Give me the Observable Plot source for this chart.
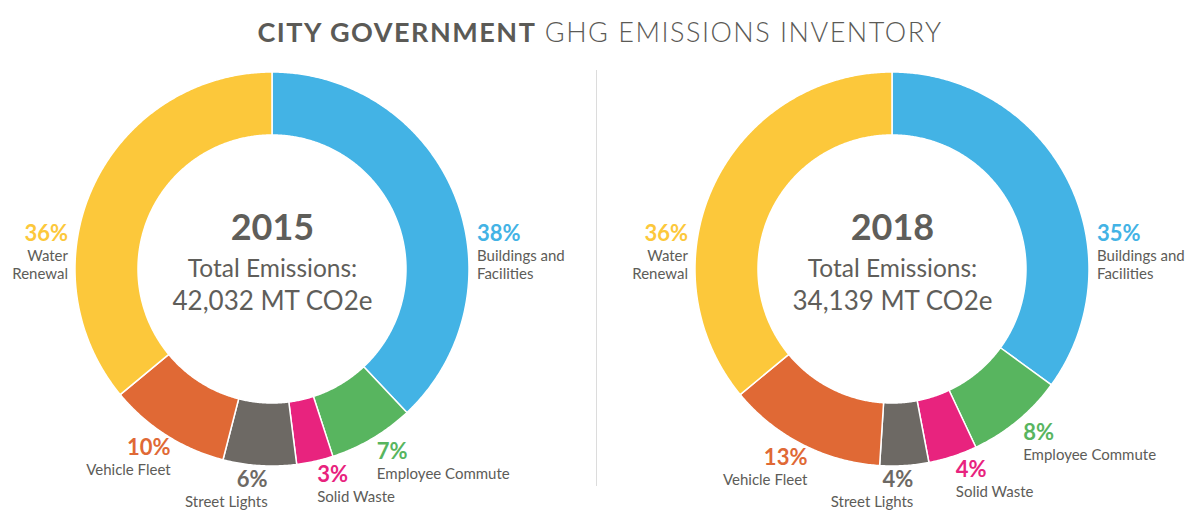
<!DOCTYPE html>
<html>
<head>
<meta charset="utf-8">
<script src="https://cdn.jsdelivr.net/npm/d3@7"></script>
<script src="https://cdn.jsdelivr.net/npm/@observablehq/plot@0.6"></script>
<style>
  html, body { margin: 0; padding: 0; background: #ffffff; }
  body { width: 1200px; height: 522px; position: relative; overflow: hidden; font-family: Lato, "Open Sans", sans-serif; }
  #title { position: absolute; left: 0; top: 14px; width: 1200px; height: 36px; line-height: 36px; text-align: center;
           font-size: 27px; color: #5b5a56; white-space: nowrap; }
  #title span { display: inline-block; }
  #title b { font-weight: 700; }
  #title .light { font-weight: 300; }
  #chart { position: absolute; left: 0; top: 56px; }
  #divider { position: absolute; left: 596px; top: 70px; width: 1px; height: 416px; background: #dcdcdc; }
</style>
</head>
<body>
<div id="title"><span id="titletext"><b>CITY GOVERNMENT</b> <span class="light">GHG EMISSIONS INVENTORY</span></span></div>
<div id="divider"></div>
<div id="chart"></div>
<script>
// ---------- data ----------
const years = ["2015", "2018"];
const totals = ["42,032", "34,139"];
const categories = ["Buildings and Facilities", "Employee Commute", "Solid Waste", "Street Lights", "Vehicle Fleet", "Water Renewal"];
const labelNames = ["Buildings and\nFacilities", "Employee Commute", "Solid Waste", "Street Lights", "Vehicle Fleet", "Water\nRenewal"];
const share2015 = [38, 7, 3, 6, 10, 36];
const share2018 = [35, 8, 4, 4, 13, 36];
const colors = ["#43b3e5", "#58b55f", "#e8237e", "#6d6964", "#e06935", "#fcc83b"];

// ---------- layout ----------
const PX = 197;               // pixels per unit (outer radius)
const R_OUT = 1;
const R_IN = 134 / PX;
const R_LABEL = 205 / PX;
const SIDE_X = 204.5 / PX;
const SIDE_Y = 44 / PX;
const W = 1200, H = 466;
const panelW = 540, gap = 80;
const cy = 213;               // centre y inside the svg

const sharesByYear = [share2015, share2018];
const pie = d3.pie().sort(null).value(d => d);

const slices = [];
years.forEach((year, yi) => {
  const arcs = pie(sharesByYear[yi]);
  arcs.forEach((a, i) => {
    slices.push({year, category: categories[i], name: labelNames[i], share: a.data,
                 start: a.startAngle, end: a.endAngle, mid: (a.startAngle + a.endAngle) / 2});
  });
});

// ring outline points (annular sectors), sampled along each arc
const ring = [];
for (const s of slices) {
  const n = Math.max(2, Math.ceil((s.end - s.start) / 0.008));
  for (let k = 0; k <= n; k++) {
    const a = s.start + (s.end - s.start) * k / n;
    ring.push({year: s.year, category: s.category, key: s.year + s.category,
               xo: R_OUT * Math.sin(a), yo: R_OUT * Math.cos(a),
               xi: R_IN * Math.sin(a), yi: R_IN * Math.cos(a)});
  }
}

// label anchor positions derived from slice angles
const labels = slices.map(s => {
  let x, y, anchor, side = false;
  if (s.start < Math.PI / 2 && s.end > Math.PI / 2) { x = SIDE_X; y = SIDE_Y; anchor = "start"; side = true; }
  else if (s.start < 3 * Math.PI / 2 && s.end > 3 * Math.PI / 2) { x = -SIDE_X; y = SIDE_Y; anchor = "end"; side = true; }
  else {
    x = R_LABEL * Math.sin(s.mid); y = R_LABEL * Math.cos(s.mid);
    anchor = s.mid < (170 / 180) * Math.PI ? "start" : "end";
  }
  return {...s, lx: x, ly: y, anchor, side};
});

const centers = years.map((year, i) => ({year, total: totals[i]}));

const textMarks = [];
for (const anchor of ["start", "end"]) {
  for (const side of [true, false]) {
    const sub = labels.filter(d => d.anchor === anchor && d.side === side);
    const dx = (!side && anchor === "end") ? 8 : 0;
    const dy0 = side ? 0 : -3;
    textMarks.push(
      Plot.text(sub, {fx: "year", x: "lx", y: "ly", text: d => d.share + "%", fill: "category",
                      textAnchor: anchor, lineAnchor: "top", dx, dy: dy0, fontSize: 22, fontWeight: 700,
                      fontFamily: "Lato, sans-serif"}),
      Plot.text(sub, {fx: "year", x: "lx", y: "ly", text: "name", fill: "#5d5c58",
                      textAnchor: anchor, lineAnchor: "top", dx, dy: dy0 + 23, fontSize: 15, lineHeight: 1.2,
                      fontFamily: "Lato, sans-serif"})
    );
  }
}

const halfX = panelW / 2 / PX;
const chart = Plot.plot({
  width: W,
  height: H,
  marginTop: 0,
  marginBottom: 0,
  marginLeft: 1.5,
  marginRight: W - 1.5 - (2 * panelW + gap),
  fx: {domain: years, paddingInner: gap / (panelW + gap), paddingOuter: 0, axis: null},
  x: {domain: [-halfX, halfX], axis: null},
  y: {domain: [-(H - cy) / PX, cy / PX], axis: null},
  color: {domain: categories, range: colors},
  style: {background: "transparent", fontFamily: "Lato, sans-serif", overflow: "visible"},
  marks: [
    Plot.area(ring, {fx: "year", x1: "xi", y1: "yi", x2: "xo", y2: "yo", z: "key",
                     fill: "category", stroke: "#ffffff", strokeWidth: 1.5, curve: "linear"}),
    Plot.text(centers, {fx: "year", x: () => 0, y: () => 0, text: "year", dy: -41,
                        fontSize: 36, fontWeight: 700, fill: "#5f5e5a", fontFamily: "Lato, sans-serif"}),
    Plot.text(centers, {fx: "year", x: () => 0, y: () => 0, text: () => "Total Emissions:",
                        fontSize: 24.5, fill: "#5f5e5a", fontFamily: "Lato, sans-serif"}),
    Plot.text(centers, {fx: "year", x: () => 0, y: () => 0, text: d => d.total + " MT CO2e", dy: 32,
                        fontSize: 26, fill: "#5f5e5a", fontFamily: "Lato, sans-serif"}),
    ...textMarks
  ]
});
document.getElementById("chart").appendChild(chart);

// fit title to the reference width
const tt = document.getElementById("titletext");
const w0 = tt.getBoundingClientRect().width;
const chars = tt.textContent.length;
tt.style.letterSpacing = ((685 - w0) / chars).toFixed(2) + "px";
</script>
</body>
</html>
